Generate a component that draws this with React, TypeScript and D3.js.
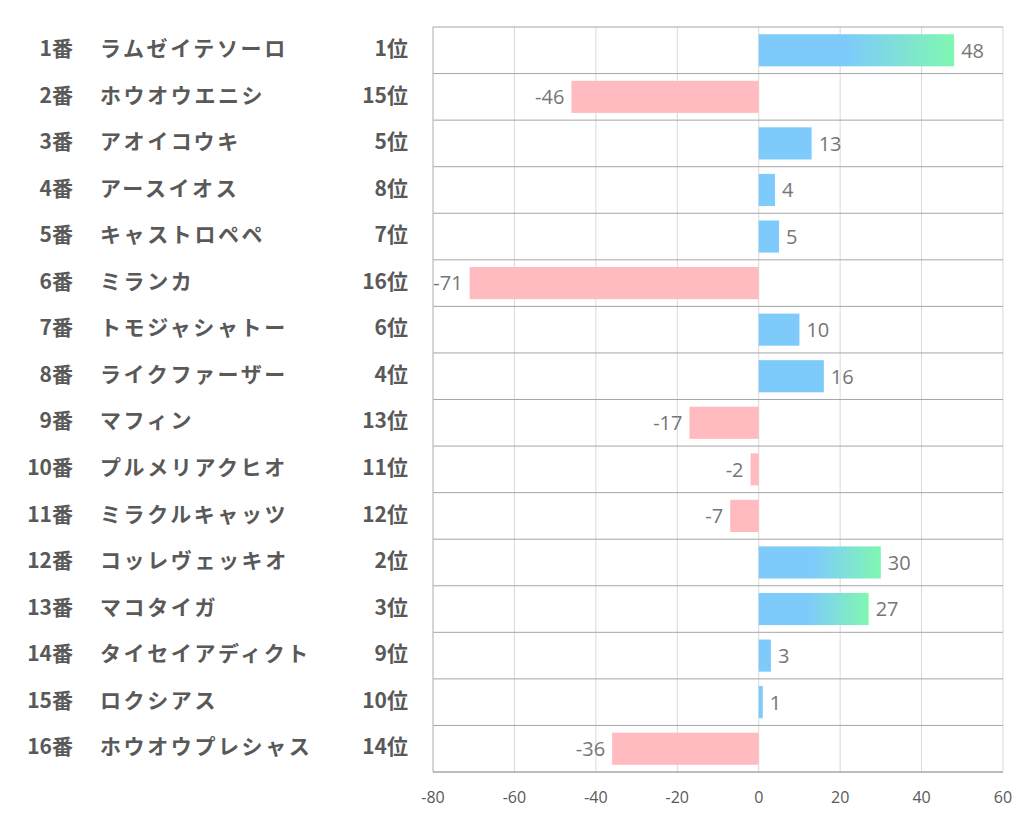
import React from "react";
import * as d3 from "d3";

const numbers = ["1番","2番","3番","4番","5番","6番","7番","8番","9番","10番","11番","12番","13番","14番","15番","16番"];
const names = ["ラムゼイテソーロ","ホウオウエニシ","アオイコウキ","アースイオス","キャストロペペ","ミランカ","トモジャシャトー","ライクファーザー","マフィン","プルメリアクヒオ","ミラクルキャッツ","コッレヴェッキオ","マコタイガ","タイセイアディクト","ロクシアス","ホウオウプレシャス"];
const ranks = [1,15,5,8,7,16,6,4,13,11,12,2,3,9,10,14];
const values = [48,-46,13,4,5,-71,10,16,-17,-2,-7,30,27,3,1,-36];
const ticks = [-80,-60,-40,-20,0,20,40,60];

const W = 1022, H = 834;
const left = 433, right = 1003, top = 27, bottom = 772;

export default function App() {
  const x = d3.scaleLinear().domain([-80, 60]).range([left, right]);
  const y = d3.scaleBand<number>().domain(d3.range(values.length)).range([top, bottom]).paddingInner(0.31).paddingOuter(0.155);
  const rowH = (bottom - top) / values.length;
  const jp = "'Noto Sans CJK JP', 'Noto Sans', sans-serif";
  const num = "'Open Sans', 'Noto Sans', sans-serif";
  return (
    <svg width={W} height={H} style={{ position: "absolute", left: 0, top: 0, background: "#fff" }}>
      <defs>
        <linearGradient id="gr" x1="0" x2="1" y1="0" y2="0">
          <stop offset="0" stopColor="#7ECBFB" />
          <stop offset="0.45" stopColor="#7ECBFB" />
          <stop offset="1" stopColor="#80F7B2" />
        </linearGradient>
      </defs>
      <rect x={0} y={0} width={W} height={H} fill="#fff" />
      {ticks.map((t) => (
        <line key={"v" + t} x1={x(t)} x2={x(t)} y1={top} y2={bottom} stroke="#D9D9D9" strokeWidth={1} />
      ))}
      {d3.range(values.length + 1).map((i) => (
        <line key={"h" + i} x1={left} x2={right} y1={top + i * rowH} y2={top + i * rowH} stroke="#A6A6A6" strokeWidth={1} />
      ))}
      <line x1={left} x2={left} y1={top} y2={bottom} stroke="#BFBFBF" />
      <line x1={left} x2={right} y1={bottom} y2={bottom} stroke="#A6A6A6" />
      {values.map((v, i) => {
        const x0 = x(Math.min(0, v));
        const w = Math.abs(x(v) - x(0));
        const fill = v < 0 ? "#FFBBBF" : ranks[i] <= 3 ? "url(#gr)" : "#7ECBFB";
        return <rect key={"b" + i} x={x0} y={y(i)!} width={w} height={y.bandwidth()} fill={fill} />;
      })}
      {values.map((v, i) => (
        <text key={"l" + i} x={v < 0 ? x(v) - 7 : x(v) + 7} y={y(i)! + y.bandwidth() / 2 + 2} textAnchor={v < 0 ? "end" : "start"}
          dominantBaseline="middle" fontFamily={num} fontSize={20} fill="#767676">{v}</text>
      ))}
      {values.map((_, i) => {
        const cy = top + (i + 0.5) * rowH;
        return (
          <g key={"t" + i} fontFamily={jp} fontWeight="bold" fontSize={21} fill="#595959">
            <text x={73} y={cy} textAnchor="end" dominantBaseline="middle">{numbers[i]}</text>
            <text x={100} y={cy} dominantBaseline="middle" letterSpacing={2.6}>{names[i]}</text>
            <text x={408} y={cy} textAnchor="end" dominantBaseline="middle">{ranks[i] + "位"}</text>
          </g>
        );
      })}
      {ticks.map((t) => (
        <text key={"tk" + t} x={x(t)} y={799} textAnchor="middle" dominantBaseline="middle" fontFamily={num} fontSize={16} fill="#595959">{t}</text>
      ))}
    </svg>
  );
}
